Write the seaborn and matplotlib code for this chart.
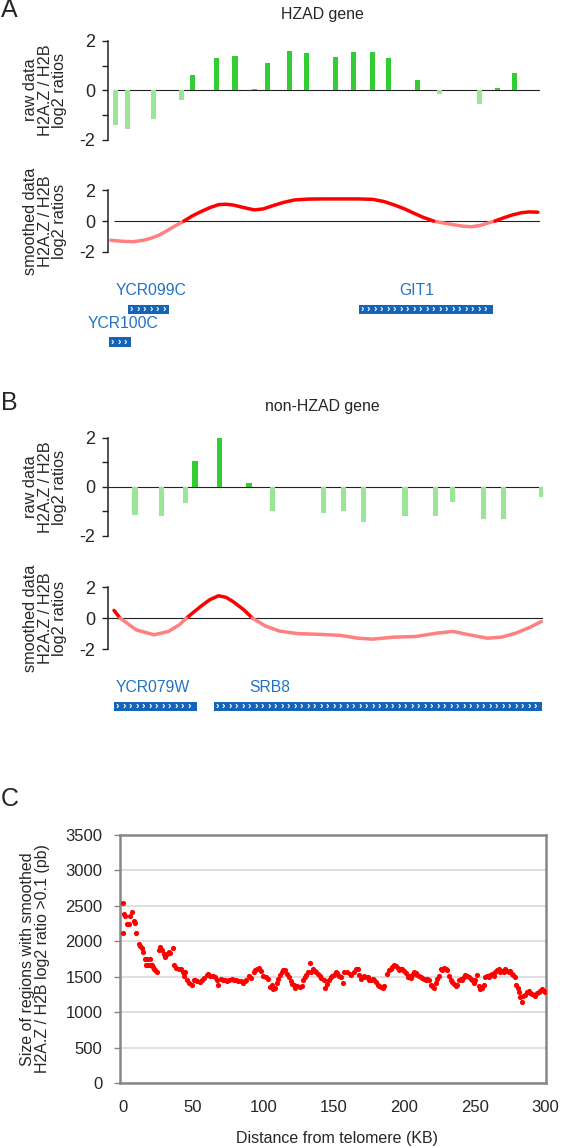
import numpy as np
import pandas as pd
import matplotlib
matplotlib.use('Agg')
import matplotlib.pyplot as plt
import seaborn as sns

# ---- panel A : HZAD gene (probe position in % of the window) ----
a_raw_pos = [0.3, 3.1, 9.3, 15.8, 18.4, 24.0, 28.4, 32.9, 36.1, 41.3,
             45.2, 52.1, 56.2, 60.7, 64.4, 71.4, 76.4, 85.9, 90.1, 94.2]
a_raw_val = [-1.39, -1.56, -1.16, -0.37, 0.60, 1.29, 1.39, 0.04, 1.10, 1.59,
             1.50, 1.35, 1.54, 1.54, 1.29, 0.41, -0.16, -0.56, 0.08, 0.71]
a_smooth_pos = [-0.8, 1.9, 4.4, 6.9, 8.6, 10.3, 12.0, 14.1, 16.4, 18.3, 20.4, 22.5,
                24.6, 26.3, 28.0, 30.5, 33.0, 35.1, 37.2, 39.8, 42.3, 45.7, 49.0,
                54.1, 57.5, 60.8, 63.4, 65.9, 68.4, 70.1, 72.6, 75.1, 77.3, 79.4,
                81.9, 84.0, 86.1, 88.2, 89.5, 91.6, 93.7, 95.8, 97.5, 99.6]
a_smooth_val = [-1.25, -1.32, -1.35, -1.25, -1.12, -0.95, -0.70, -0.35, 0.0, 0.33, 0.62, 0.88,
                1.08, 1.10, 1.05, 0.88, 0.73, 0.80, 1.00, 1.22, 1.38, 1.44, 1.45,
                1.45, 1.45, 1.42, 1.28, 1.05, 0.78, 0.56, 0.25, 0.0, -0.12, -0.22,
                -0.33, -0.37, -0.28, -0.10, 0.0, 0.22, 0.41, 0.55, 0.60, 0.58]
a_genes = ['YCR099C', 'YCR100C', 'GIT1']
a_gene_start = [3.3, -1.1, 57.5]
a_gene_end = [12.8, 4.0, 89.0]
a_gene_row = [0, 1, 0]
a_gene_label = [8.8, 2.1, 71.2]

# ---- panel B : non-HZAD gene ----
b_raw_pos = [6.3, 12.4, 17.9, 20.1, 25.7, 32.5, 37.9, 49.6, 54.2, 58.8,
             68.3, 75.3, 79.3, 86.4, 91.0, 99.6]
b_raw_val = [-1.15, -1.21, -0.67, 1.05, 2.21, 0.17, -0.98, -1.06, -0.98, -1.45,
             -1.21, -1.21, -0.63, -1.30, -1.30, -0.43]
b_smooth_pos = [1.5, 2.9, 6.6, 10.7, 14.0, 16.5, 18.1, 21.4, 23.5, 25.5, 27.2, 28.8,
                31.3, 33.3, 36.2, 39.5, 43.6, 49.4, 53.5, 57.6, 60.9, 65.8, 70.8,
                75.7, 79.4, 82.3, 87.2, 90.5, 93.8, 97.1, 99.6]
b_smooth_val = [0.50, 0.0, -0.76, -1.08, -0.86, -0.43, 0.0, 0.76, 1.20, 1.45, 1.35, 1.08,
                0.54, 0.0, -0.50, -0.84, -1.00, -1.06, -1.12, -1.30, -1.36, -1.23, -1.19,
                -0.97, -0.86, -1.04, -1.30, -1.23, -0.97, -0.58, -0.22]
b_genes = ['YCR079W', 'SRB8']
b_gene_start = [1.5, 24.4]
b_gene_end = [20.6, 99.8]
b_gene_row = [0, 0]
b_gene_label = [10.5, 37.2]

# ---- panel C ----
c_dist = [0.0, 0.5, 1.0, 2.1, 3.3, 3.8, 4.5, 5.2, 6.8, 8.0, 8.5, 9.9, 11.5, 12.2, 13.9,
          14.6, 16.0, 16.9, 17.5, 18.2, 19.3, 19.8, 21.0, 21.6, 22.1, 23.3, 24.5, 25.6,
          26.8, 28.0, 29.2, 30.4, 31.5, 32.7, 33.9, 35.5, 36.7, 38.1, 39.8, 41.4, 42.8,
          43.3, 44.5, 46.1, 47.5, 49.2, 50.4, 51.5, 53.2, 55.1, 56.2, 57.9, 59.8, 60.9,
          62.1, 64.0, 65.6, 66.8, 68.0, 69.6, 71.1, 72.7, 74.4, 75.8, 77.4, 79.1, 80.5,
          82.1, 83.8, 85.2, 86.8, 88.0, 89.9, 91.3, 93.0, 94.1, 95.8, 97.0, 98.3, 100.0,
          101.6, 103.1, 104.7, 105.9, 107.1, 108.2, 109.4, 110.1, 111.8, 113.0, 114.1,
          115.3, 116.5, 118.1, 119.5, 120.5, 121.9, 122.8, 124.2, 125.9, 127.1, 128.2,
          129.4, 130.6, 131.8, 133.0, 134.1, 135.3, 136.5, 137.6, 138.8, 140.0, 141.2,
          143.0, 144.0, 145.4, 146.3, 147.8, 148.7, 150.1, 151.3, 152.4, 153.4, 154.8,
          156.4, 157.6, 159.5, 161.2, 162.4, 164.2, 165.9, 167.0, 168.2, 169.4, 170.6,
          171.8, 172.9, 174.1, 175.3, 176.4, 177.6, 178.8, 180.0, 181.2, 182.3, 183.5,
          184.7, 185.9, 187.8, 189.4, 190.6, 191.7, 192.9, 194.1, 195.3, 196.5, 197.6,
          198.8, 200.0, 201.2, 202.4, 203.5, 204.7, 205.9, 207.1, 208.3, 209.4, 210.6,
          211.8, 213.0, 214.1, 215.3, 216.5, 217.6, 218.8, 220.0, 221.2, 222.4, 223.5,
          224.7, 225.9, 227.1, 228.2, 229.4, 230.6, 231.8, 232.9, 234.1, 235.3, 236.5,
          237.6, 238.8, 240.0, 241.2, 242.4, 243.5, 244.7, 245.9, 247.1, 248.2, 249.4,
          250.6, 251.8, 253.0, 254.1, 255.3, 256.5, 257.6, 258.8, 260.0, 261.2, 262.4,
          263.5, 264.7, 265.9, 267.1, 268.3, 269.4, 270.6, 271.8, 272.9, 274.1, 275.3,
          276.5, 277.6, 278.8, 279.5, 280.6, 281.5, 282.4, 283.5, 284.7, 286.0, 287.0,
          288.5, 289.5, 290.7, 292.0, 293.2, 294.4, 295.5, 296.7, 297.8, 299.0, 300.0]
c_size = [2110, 2540, 2380, 2360, 2250, 2240, 2250, 2350, 2420, 2290, 2260, 2110, 1960, 1940, 1905,
          1850, 1755, 1660, 1755, 1660, 1755, 1660, 1660, 1640, 1615, 1595, 1570, 1870,
          1925, 1880, 1825, 1775, 1825, 1845, 1830, 1900, 1665, 1630, 1605, 1605, 1570,
          1505, 1570, 1450, 1410, 1390, 1450, 1455, 1435, 1420, 1450, 1480, 1525, 1540,
          1510, 1510, 1495, 1450, 1390, 1470, 1460, 1455, 1440, 1455, 1470, 1460, 1455,
          1440, 1440, 1415, 1440, 1460, 1515, 1480, 1560, 1595, 1605, 1630, 1585, 1510,
          1495, 1465, 1355, 1390, 1320, 1345, 1410, 1465, 1525, 1570, 1595,
          1595, 1540, 1495, 1435, 1400, 1390, 1345, 1365, 1355, 1365, 1455,
          1495, 1525, 1560, 1695, 1570, 1605, 1585, 1560, 1540, 1510, 1480,
          1450, 1345, 1400, 1455, 1495, 1505, 1525, 1560, 1550, 1510, 1495,
          1410, 1560, 1570, 1540, 1525, 1570, 1615, 1605, 1525, 1465, 1495,
          1505, 1495, 1495, 1455, 1450, 1465, 1455, 1420, 1390, 1365, 1355,
          1345, 1365, 1540, 1595, 1605, 1640, 1665, 1650, 1630, 1595, 1615,
          1605, 1585, 1550, 1495, 1510, 1480, 1525, 1560, 1550, 1525, 1510,
          1495, 1480, 1465, 1455, 1465, 1450, 1390, 1365, 1345, 1410, 1465,
          1510, 1615, 1595, 1630, 1615, 1595, 1510, 1450, 1420, 1400, 1365,
          1390, 1450, 1465, 1450, 1495, 1525, 1510, 1495, 1465, 1450, 1410,
          1450, 1525, 1365, 1320, 1345, 1390, 1495, 1510, 1495, 1525, 1540,
          1510, 1570, 1595, 1605, 1570, 1585, 1570, 1605, 1585, 1570, 1585,
          1540, 1520, 1500, 1380, 1340, 1290, 1220, 1140, 1230, 1240, 1280,
          1300, 1270, 1250, 1240, 1230, 1270, 1290, 1300, 1320, 1300, 1290]

DARK_GREEN = '#33cc33'
LIGHT_GREEN = '#99e699'
RED = '#ff0000'
PINK = '#ff8080'
BOX_BLUE = '#1464b8'
TEXT_BLUE = '#2372c4'

sns.set_style('white')
plt.rcParams['font.family'] = ['Liberation Sans', 'DejaVu Sans']
plt.rcParams['axes.unicode_minus'] = False

W, H = 561, 1147
fig = plt.figure(figsize=(W / 100, H / 100), dpi=100)


def px_axes(left, top, right, bottom):
    return fig.add_axes([left / W, 1 - bottom / H, (right - left) / W, (bottom - top) / H])


def ftext(x, y, s, **kw):
    fig.text(x / W, 1 - y / H, s, **kw)


def sign_runs(pos, val):
    rows = []
    seg = 0
    sign = 'pos' if val[0] > 0 else 'neg'
    for i, (p, v) in enumerate(zip(pos, val)):
        rows.append((p, v, seg, sign))
        if v == 0 and 0 < i < len(val) - 1:
            seg += 1
            sign = 'pos' if val[i + 1] > 0 else 'neg'
            rows.append((p, v, seg, sign))
    return pd.DataFrame(rows, columns=['pos', 'val', 'seg', 'sign'])


def style_track(ax, xlim, minor):
    ax.set_xlim(*xlim)
    ax.set_ylim(-2, 2)
    ax.set_yticks([-2, 0, 2])
    if minor:
        ax.set_yticks([-1, 1], minor=True)
    ax.set_xticks([])
    for s in ['top', 'right', 'bottom']:
        ax.spines[s].set_visible(False)
    ax.spines['left'].set_color('#222222')
    ax.spines['left'].set_linewidth(1.1)
    ax.tick_params(axis='y', which='both', direction='out', length=4, width=1.0,
                   color='#222222', pad=5, labelsize=13, left=True)
    ax.hlines(0, 0, 100, color='#222222', linewidth=0.8, zorder=1)


def raw_track(ax, pos, val, xlim):
    colors = [DARK_GREEN if v > 0 else LIGHT_GREEN for v in val]
    ax.bar(pos, val, width=1.2, color=colors, linewidth=0, zorder=2)
    style_track(ax, xlim, True)


def smooth_track(ax, pos, val, xlim):
    df = sign_runs(pos, val)
    sns.lineplot(data=df, x='pos', y='val', hue='sign', units='seg', estimator=None,
                 palette={'pos': RED, 'neg': PINK}, linewidth=2.5, legend=False,
                 sort=False, ax=ax, zorder=3)
    ax.set_xlabel('')
    ax.set_ylabel('')
    style_track(ax, xlim, False)


def gene_track(ax, names, start, end, row, label, xlim, px_per_unit):
    ax.set_xlim(*xlim)
    ax.set_ylim(2.5, 0)
    ax.axis('off')
    for n, s, e, r, lx in zip(names, start, end, row, label):
        y = 1 + r
        ax.barh(y, e - s, left=s, height=0.3, color=BOX_BLUE, linewidth=0)
        ax.text(lx, y - 0.57, n, ha='center', va='center', color=TEXT_BLUE, fontsize=11.3)
        step = 6.5 / px_per_unit
        for cx in np.arange(s + step / 2, e - step / 3, step):
            ax.text(cx, y, '\u203a', ha='center', va='center', color='white',
                    fontsize=7.5, fontweight='bold')


def track_label(y, lines):
    ftext(45, y, lines, rotation=90, ha='center', va='center', multialignment='center',
          fontsize=11.7, linespacing=0.95)


# ---- A ----
ax = px_axes(108, 40.7, 540, 140)
raw_track(ax, a_raw_pos, a_raw_val, (-1.45, 100.1))
ax = px_axes(108, 190.5, 540, 251.7)
smooth_track(ax, a_smooth_pos, a_smooth_val, (-1.45, 100.1))
ax = px_axes(108, 277, 540, 358)
gene_track(ax, a_genes, a_gene_start, a_gene_end, a_gene_row, a_gene_label, (-1.45, 100.1), 4.255)
track_label(90, 'raw data\nH2A.Z / H2B\nlog2 ratios')
track_label(221, 'smoothed data\nH2A.Z / H2B\nlog2 ratios')
ftext(322, 15, 'HZAD gene', ha='center', va='center', fontsize=11.4)
ftext(1, 10, 'A', ha='left', va='center', fontsize=18)

# ---- B ----
xb = (0, 100)
ax = px_axes(107.5, 437.7, 543, 535.7)
raw_track(ax, b_raw_pos, b_raw_val, xb)
ax = px_axes(107.5, 587.3, 543, 649)
smooth_track(ax, b_smooth_pos, b_smooth_val, xb)
ax = px_axes(107.5, 674, 543, 755)
gene_track(ax, b_genes, b_gene_start, b_gene_end, b_gene_row, b_gene_label, xb, 4.355)
track_label(487, 'raw data\nH2A.Z / H2B\nlog2 ratios')
track_label(618, 'smoothed data\nH2A.Z / H2B\nlog2 ratios')
ftext(322, 406, 'non-HZAD gene', ha='center', va='center', fontsize=11.4)
ftext(1, 403, 'B', ha='left', va='center', fontsize=18)

# ---- C ----
axc = px_axes(120, 835, 546, 1083)
sns.scatterplot(x=c_dist, y=c_size, color=RED, s=14, linewidth=0, ax=axc, zorder=3)
axc.set_xlim(-1.8, 300.7)
axc.set_ylim(0, 3500)
axc.set_yticks(range(0, 3501, 500))
axc.set_xticks(range(0, 301, 50))
axc.grid(axis='y', color='#d9d9d9', linewidth=1.2)
axc.grid(axis='x', visible=False)
for s in axc.spines.values():
    s.set_color('#878787')
    s.set_linewidth(1.8)
axc.tick_params(axis='y', direction='out', length=4.5, width=1, color='#878787',
                pad=8, labelsize=12, left=True)
axc.tick_params(axis='x', length=0, pad=12, labelsize=12)
ftext(35, 959, 'Size of regions with smoothed\nH2A.Z / H2B log2 ratio >0.1 (pb)',
      rotation=90, ha='center', va='center', multialignment='center',
      fontsize=11.5, linespacing=0.95)
ftext(337, 1138, 'Distance from telomere (KB)', ha='center', va='center', fontsize=11.5)
ftext(1, 799, 'C', ha='left', va='center', fontsize=18)

fig.savefig('out.png', dpi=100)
